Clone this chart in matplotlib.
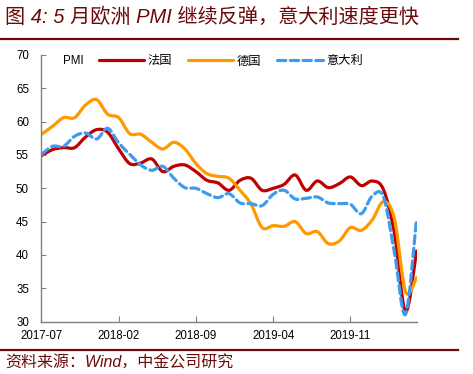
import numpy as np
import matplotlib.pyplot as plt
from matplotlib.path import Path
from matplotlib.patches import PathPatch
from matplotlib.lines import Line2D

plt.rcParams['font.family'] = ['Liberation Sans', 'Noto Sans CJK SC', 'DejaVu Sans']

# monthly PMI, 2017-07 .. 2020-05
months = np.arange(35)
france = [54.9, 55.8, 56.1, 56.1, 57.7, 58.8, 58.4, 55.9, 53.7, 53.8, 54.4, 52.5,
          53.3, 53.5, 52.5, 51.2, 50.8, 49.7, 51.2, 51.5, 49.7, 50.0, 50.6, 52.0,
          49.7, 51.1, 50.1, 50.7, 51.7, 50.4, 51.1, 49.8, 43.2, 31.5, 40.6]
germany = [58.1, 59.3, 60.6, 60.6, 62.5, 63.3, 61.1, 60.6, 58.2, 58.1, 56.9, 55.9,
           56.9, 55.9, 53.7, 52.2, 51.8, 51.5, 49.7, 47.6, 44.1, 44.4, 44.3, 45.0,
           43.2, 43.5, 41.7, 42.1, 44.1, 43.7, 45.3, 48.0, 45.4, 34.5, 36.6]
italy = [55.1, 56.3, 56.3, 57.8, 58.3, 57.4, 59.0, 56.8, 55.1, 53.5, 52.7, 53.3,
         51.5, 50.1, 50.0, 49.2, 48.6, 49.2, 47.8, 47.7, 47.4, 49.1, 49.7, 48.4,
         48.5, 48.7, 47.8, 47.7, 47.6, 46.2, 48.9, 48.7, 40.3, 31.1, 45.4]
names = ['法国', '德国', '意大利']
colors = ['#C00000', '#FF9900', '#3D9BF0']
styles = ['-', '-', (0, (2.6, 1.4))]
tick_pos = [0, 7, 14, 21, 28]
tick_lab = ['2017-07', '2018-02', '2018-09', '2019-04', '2019-11']

dark = '#6B0A0A'


def smooth_path(x, y):
    # cubic bezier through the monthly points (like an Excel smoothed line)
    p = np.column_stack([x, y]).astype(float)
    pp = np.vstack([p[0], p, p[-1]])
    verts = [p[0]]
    codes = [Path.MOVETO]
    for i in range(len(p) - 1):
        c1 = pp[i + 1] + (pp[i + 2] - pp[i]) / 6
        c2 = pp[i + 2] - (pp[i + 3] - pp[i + 1]) / 6
        verts += [c1, c2, p[i + 1]]
        codes += [Path.CURVE4] * 3
    return Path(verts, codes)


fig = plt.figure(figsize=(4.73, 3.74), dpi=100)
ax = fig.add_axes([0.0877, 0.140, 0.793, 0.713])

for ys, c, ls in zip([france, germany, italy], colors, styles):
    ax.add_patch(PathPatch(smooth_path(months, ys), fill=False, edgecolor=c,
                           lw=2.3, linestyle=ls, capstyle='round', joinstyle='round'))

ax.set_xlim(0, 34)
ax.set_ylim(30, 70)
ax.set_yticks(np.arange(30, 71, 5))
ax.set_xticks(tick_pos)
ax.set_xticklabels(tick_lab)
for s in ['top', 'right']:
    ax.spines[s].set_visible(False)
for s in ['left', 'bottom']:
    ax.spines[s].set_color('#808080')
    ax.spines[s].set_linewidth(1.0)
ax.tick_params(axis='y', direction='in', length=3.5, color='#808080', labelsize=8.3, pad=9)
ax.tick_params(axis='x', direction='in', length=4, color='#808080', labelsize=8.3, pad=6)

handles = [Line2D([], [], color=c, lw=2.3, linestyle=ls, solid_capstyle='round',
                  dash_capstyle='round') for c, ls in zip(colors, styles)]
ax.text(0.058, 0.976, 'PMI', transform=ax.transAxes, fontsize=8.3, va='center')
ax.legend(handles, names, ncol=3, frameon=False, loc='center left',
          bbox_to_anchor=(0.14, 0.976), fontsize=8.8, handlelength=3.7,
          handletextpad=0.3, columnspacing=1.3, borderaxespad=0)

fig.text(0.011, 0.953, '图 4: 5 月欧洲 PMI 继续反弹，意大利速度更快', fontsize=14.5,
         color=dark, style='italic', va='center',
         family=['Liberation Sans', 'Noto Sans CJK SC'])
fig.add_artist(Line2D([0, 0.969], [0.897, 0.897], color=dark, lw=1.6))
fig.add_artist(Line2D([0, 0.969], [0.064, 0.064], color=dark, lw=1.6))
fig.text(0.011, 0.029, '资料来源：Wind，中金公司研究', fontsize=11.5, color=dark,
         style='italic', va='center', family=['Liberation Sans', 'Noto Sans CJK SC'])

fig.savefig('out.png', dpi=100)
